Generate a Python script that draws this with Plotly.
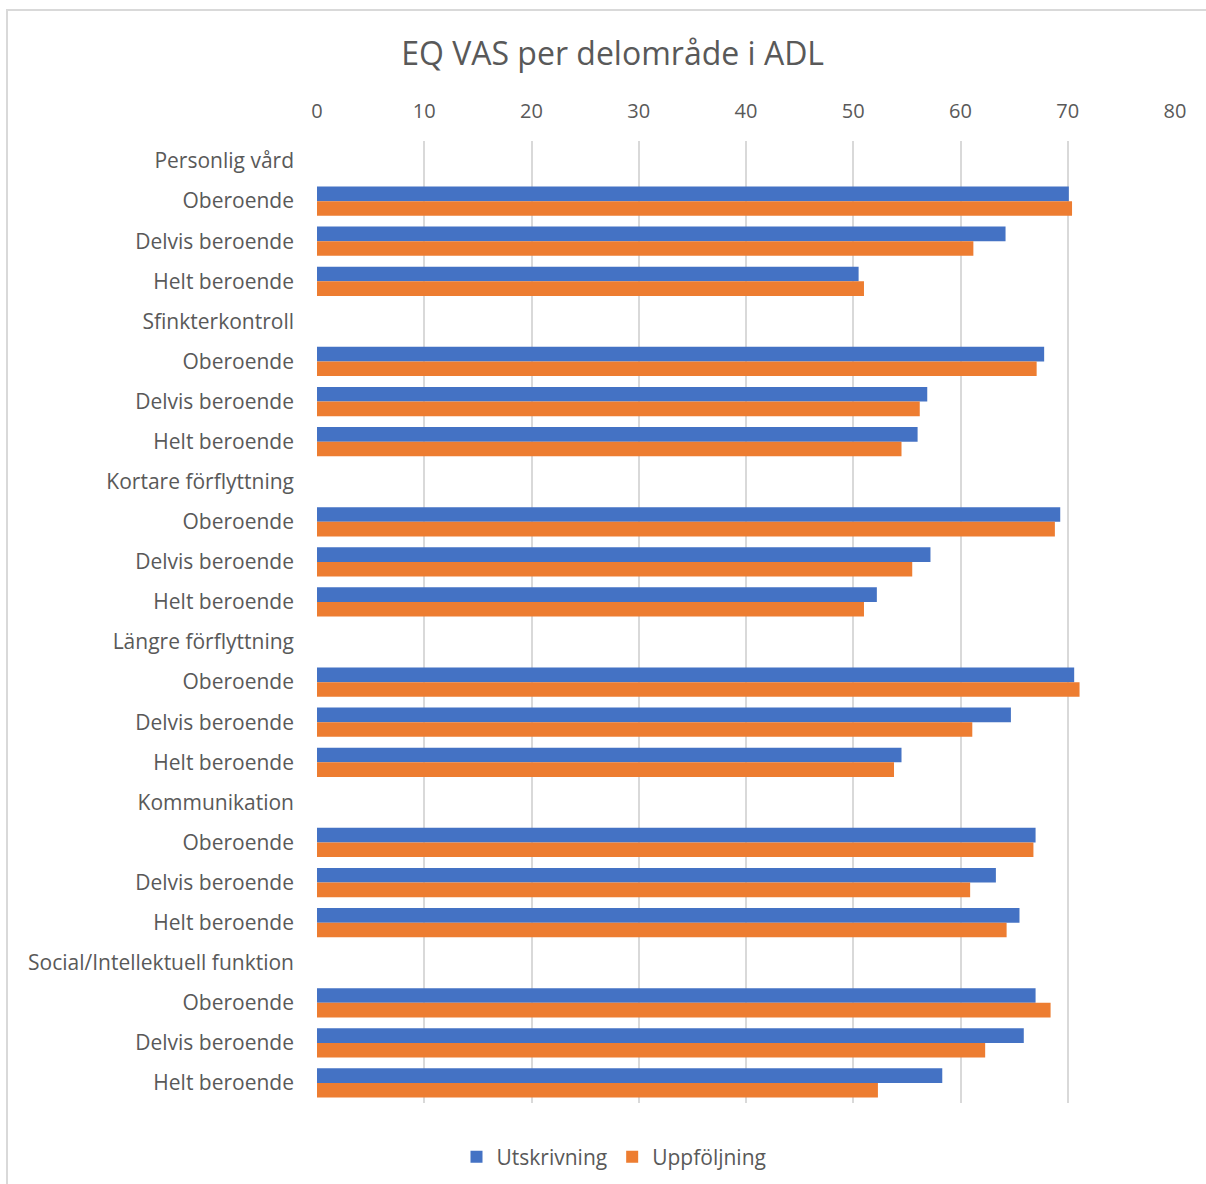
import plotly.graph_objects as go

labels = ["Personlig vård", "Oberoende", "Delvis beroende", "Helt beroende",
          "Sfinkterkontroll", "Oberoende", "Delvis beroende", "Helt beroende",
          "Kortare förflyttning", "Oberoende", "Delvis beroende", "Helt beroende",
          "Längre förflyttning", "Oberoende", "Delvis beroende", "Helt beroende",
          "Kommunikation", "Oberoende", "Delvis beroende", "Helt beroende",
          "Social/Intellektuell funktion", "Oberoende", "Delvis beroende", "Helt beroende"]

utskrivning = [None, 70.1, 64.2, 50.5,
               None, 67.8, 56.9, 56.0,
               None, 69.3, 57.2, 52.2,
               None, 70.6, 64.7, 54.5,
               None, 67.0, 63.3, 65.5,
               None, 67.0, 65.9, 58.3]

uppfoljning = [None, 70.4, 61.2, 51.0,
               None, 67.1, 56.2, 54.5,
               None, 68.8, 55.5, 51.0,
               None, 71.1, 61.1, 53.8,
               None, 66.8, 60.9, 64.3,
               None, 68.4, 62.3, 52.3]

x_ticks = [0, 10, 20, 30, 40, 50, 60, 70, 80]

pos = list(range(len(labels)))
FONT = "Open Sans, sans-serif"
GREY = "#595959"

fig = go.Figure()
fig.add_trace(go.Bar(y=pos, x=utskrivning, orientation="h", name="Utskrivning",
                     marker=dict(color="#4472C4", line=dict(width=0))))
fig.add_trace(go.Bar(y=pos, x=uppfoljning, orientation="h", name="Uppföljning",
                     marker=dict(color="#ED7D31", line=dict(width=0))))

L, R, T, B = 317, 31, 141, 81
W, H = 1206, 1184
pw, ph = W - L - R, H - T - B

fig.update_layout(
    width=W, height=H,
    margin=dict(l=L, r=R, t=T, b=B, autoexpand=False),
    paper_bgcolor="white", plot_bgcolor="white",
    font=dict(family=FONT, color=GREY, size=21),
    barmode="group", bargap=0.27, bargroupgap=0,
    title=dict(text="EQ VAS per delområde i ADL", x=0.508, xref="container",
               xanchor="center", y=1 - 54 / H, yanchor="middle",
               font=dict(size=32, color=GREY, family=FONT)),
    xaxis=dict(side="top", range=[0, 80], tickvals=x_ticks, showgrid=True,
               gridcolor="#D9D9D9", gridwidth=1.5, zeroline=False, showline=False,
               ticks="", ticklabelstandoff=18, tickfont=dict(size=20, color=GREY)),
    yaxis=dict(tickvals=pos, ticktext=labels, autorange=False,
               range=[len(labels) - 0.5, -0.5], showgrid=False, zeroline=False,
               showline=False, ticks="", ticklabelstandoff=22,
               tickfont=dict(size=21, color=GREY)),
    legend=dict(orientation="h", x=(614 - L) / pw,
                xanchor="center", y=-(1157 - (T + ph)) / ph, yanchor="middle",
                font=dict(size=21, color=GREY), itemwidth=30, traceorder="normal"),
    showlegend=True,
)

# chart border
fig.add_shape(type="rect", xref="paper", yref="paper",
              x0=(7 - L) / pw, x1=(1215 - L) / pw,
              y0=-(1195 - (T + ph)) / ph, y1=1 + (T - 10) / ph,
              line=dict(color="#D9D9D9", width=2), fillcolor="rgba(0,0,0,0)", layer="below")

fig.write_html("out.html")
